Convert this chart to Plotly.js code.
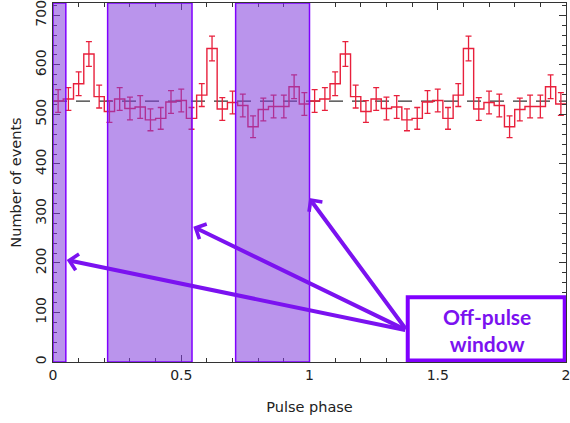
<!DOCTYPE html>
<html>
<head>
<meta charset="utf-8">
<script src="https://cdn.plot.ly/plotly-3.0.1.min.js"></script>
<style>
html,body{margin:0;padding:0;background:#fff;}
#chart{width:570px;height:423px;}
</style>
</head>
<body>
<div id="chart"></div>
<script>
// Pulse profile: 25 phase bins per cycle, two cycles shown (phase 0-2)
const binWidth = 0.04;
const counts = [
  527, 531, 562, 622, 536, 506, 531, 512, 515, 489, 492, 525, 528, 492, 539, 633, 511, 524, 518, 475, 510, 516, 516, 556, 521,
  527, 531, 562, 622, 536, 506, 531, 512, 515, 489, 492, 525, 528, 492, 539, 633, 511, 524, 518, 475, 510, 516, 516, 556, 521
];
const errors = [
  23, 23, 24, 25, 23, 22, 23, 23, 23, 22, 22, 23, 23, 22, 23, 25, 23, 23, 23, 22, 23, 23, 23, 24, 23,
  23, 23, 24, 25, 23, 22, 23, 23, 23, 22, 22, 23, 23, 22, 23, 25, 23, 23, 23, 22, 23, 23, 23, 24, 23
];
const meanLevel = 527;
const offPulseWindows = [[0.0, 0.05], [0.213, 0.542], [0.712, 1.0]];
const xTickVals = [0, 0.5, 1, 1.5, 2];
const xTickText = ['0', '0.5', '1', '1.5', '2'];
const yTickVals = [0, 100, 200, 300, 400, 500, 600, 700];
const yTickText = ['0', '100', '200', '300', '400', '500', '600', '700'];

const yMax = 725;
const edges = counts.map((c, i) => i * binWidth);
const centers = counts.map((c, i) => (i + 0.5) * binWidth);
const stepX = edges.concat([counts.length * binWidth]);
const stepY = counts.concat([counts[counts.length - 1]]);

const red = '#e8203c';
const purpleLine = '#8000ff';
const purpleArrow = '#7b12f0';

const traces = [
  {x: [0, 2], y: [meanLevel, meanLevel], mode: 'lines', line: {color: '#333', width: 1.3, dash: '14px,9px'}, hoverinfo: 'skip'},
  {x: stepX, y: stepY, mode: 'lines', line: {color: red, width: 1.4, shape: 'hv'}, hoverinfo: 'skip'},
  {x: centers, y: counts, mode: 'markers', marker: {size: 1, color: red, opacity: 0},
   error_y: {type: 'data', array: errors, visible: true, color: red, thickness: 1.3, width: 3}, hoverinfo: 'skip'}
];

const shapes = offPulseWindows.map(w => ({
  type: 'rect', xref: 'x', yref: 'y', x0: w[0], x1: w[1], y0: 0, y1: yMax,
  fillcolor: 'rgba(130,60,220,0.55)', line: {color: purpleLine, width: 1.5}, layer: 'above'
}));
shapes.push({
  type: 'rect', xref: 'x', yref: 'y', x0: 1.383, x1: 1.995, y0: 3, y1: 131,
  fillcolor: '#ffffff', line: {color: purpleLine, width: 4}, layer: 'above'
});

const tail = {x: 1.379, y: 64};
const tips = [[0.0534, 206], [0.547, 273], [0.999, 331]];
const annotations = tips.map(t => ({
  x: t[0], y: t[1], xref: 'x', yref: 'y', axref: 'x', ayref: 'y', ax: tail.x, ay: tail.y,
  text: '', showarrow: true, arrowhead: 4, arrowsize: 0.8, arrowwidth: 4, arrowcolor: purpleArrow, standoff: 0
}));
annotations.push({
  x: 1.691, y: 65, xref: 'x', yref: 'y', text: '<b>Off-pulse<br>window</b>', showarrow: false,
  font: {family: 'Lato, "Open Sans", sans-serif', size: 21, color: purpleArrow}, align: 'center'
});

const fam = '"DejaVu Sans", Verdana, sans-serif';
const axisFont = {family: fam, size: 14, color: '#222'};

const layout = {
  width: 570, height: 423,
  margin: {l: 53, r: 4, t: 3, b: 61},
  paper_bgcolor: '#fff', plot_bgcolor: '#fff',
  showlegend: false,
  xaxis: {
    range: [0, 2], tickvals: xTickVals, ticktext: xTickText, ticks: 'inside', ticklen: 7, tickwidth: 1,
    tickcolor: '#333', showline: true, linecolor: '#333', linewidth: 1, mirror: 'allticks', showgrid: false, zeroline: false,
    minor: {dtick: 0.1, ticks: 'inside', ticklen: 4, tickcolor: '#333', showgrid: false},
    tickfont: axisFont, ticklabeloverflow: 'allow',
    title: {text: 'Pulse phase', font: {family: fam, size: 14.5, color: '#222'}, standoff: 20}
  },
  yaxis: {
    range: [0, yMax], tickvals: yTickVals, ticktext: yTickText, ticks: 'inside', ticklen: 7, tickwidth: 1,
    tickcolor: '#333', showline: true, linecolor: '#333', linewidth: 1, mirror: 'allticks', showgrid: false, zeroline: false,
    minor: {dtick: 20, ticks: 'inside', ticklen: 4, tickcolor: '#333', showgrid: false},
    tickangle: -90, tickfont: axisFont, ticklabeloverflow: 'allow',
    title: {text: 'Number of events', font: {family: fam, size: 14.5, color: '#222'}, standoff: 8}
  },
  shapes: shapes,
  annotations: annotations
};

Plotly.newPlot('chart', traces, layout, {staticPlot: true, displayModeBar: false});
</script>
</body>
</html>
